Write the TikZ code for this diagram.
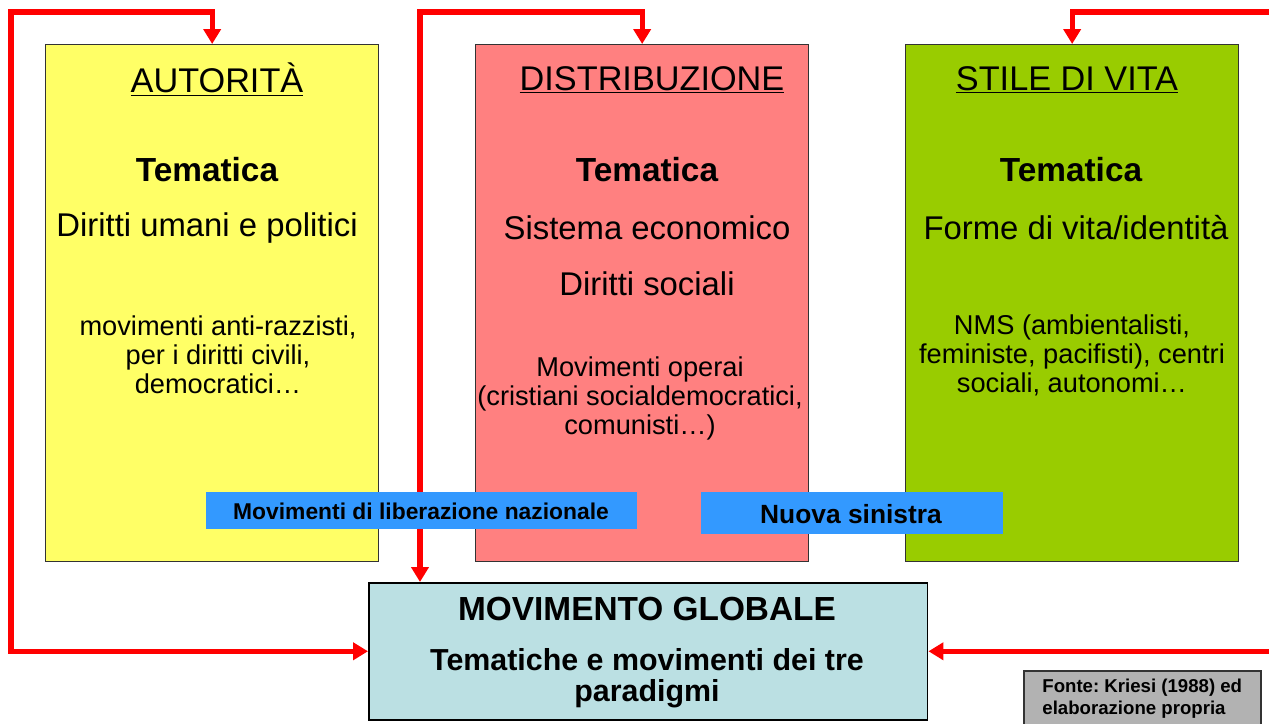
\documentclass[tikz,border=0pt]{standalone}
\usepackage{fontspec}
\setmainfont{Liberation Sans}
\usetikzlibrary{arrows.meta}
\frenchspacing

\definecolor{colYellow}{HTML}{FFFF66}
\definecolor{colRed}{HTML}{FF8080}
\definecolor{colGreen}{HTML}{99CC00}
\definecolor{colCyan}{HTML}{BBE0E3}
\definecolor{colBlue}{HTML}{3399FF}
\definecolor{colGray}{HTML}{B2B2B2}

\tikzset{
    column/.style={draw=black!80,line width=0.8pt,anchor=north west,inner sep=0pt,
        minimum width=6.66cm,minimum height=10.34cm},
    title/.style={font=\fontsize{19.5}{22}\selectfont},
    tema/.style={font=\bfseries\fontsize{19}{22}\selectfont},
    big/.style={font=\fontsize{18.7}{22}\selectfont},
    small/.style={font=\fontsize{15.5}{16.5}\selectfont,align=center},
    tag/.style={fill=colBlue,anchor=north west,inner sep=0pt,font=\bfseries},
    link/.style={draw=red,line width=2.85pt,{Triangle[length=8.5pt,width=9.7pt]}-{Triangle[length=8.5pt,width=9.7pt]}},
}

\begin{document}
\begin{tikzpicture}[x=0.02cm,y=-0.02cm]
    \useasboundingbox (0,0) rectangle (1269,724);
    % the three paradigms
    \node[column,fill=colYellow] (aut) at (45,44) {};
    \node[column,fill=colRed] (dis) at (475,44) {};
    \node[column,fill=colGreen] (sti) at (905,44) {};

    \node[title] (autTitle) at (217,80) {\underline{AUTORIT\`A}};
    \node[tema] (autTema) at (207,170) {Tematica};
    \node[big] (autDir) at (207,228) {Diritti umani e politici};
    \node[small] (autMov) at (218,355) {movimenti anti-razzisti,\\per i diritti civili,\\democratici\dots};

    \node[title] (disTitle) at (652,80) {\underline{DISTRIBUZIONE}};
    \node[tema] (disTema) at (647,170) {Tematica};
    \node[big] (disSis) at (647,228) {Sistema economico};
    \node[big] (disDir) at (647,284) {Diritti sociali};
    \node[small] (disMov) at (640,398) {Movimenti operai\\(cristiani socialdemocratici,\\comunisti\dots)};

    \node[title] (stiTitle) at (1067,80) {\underline{STILE DI VITA}};
    \node[tema] (stiTema) at (1071,170) {Tematica};
    \node[big] (stiForme) at (1076,228) {Forme di vita/identit\`a};
    \node[small] (stiMov) at (1072,355) {NMS (ambientalisti,\\feministe, pacifisti), centri\\sociali, autonomi\dots};

    % global movement
    \node[draw=black,line width=0.9pt,fill=colCyan,anchor=north west,inner sep=0pt,
        minimum width=11.18cm,minimum height=2.74cm] (glob) at (368,582) {};
    \node[tema] (globTitle) at (647,609) {MOVIMENTO GLOBALE};
    \node[font=\bfseries\fontsize{17.3}{17.5}\selectfont,align=center] (globTxt) at (647,678)
        {Tematiche e movimenti dei tre\\paradigmi};

    % feedback arrows
    \coordinate (c1) at (11,12);
    \coordinate (c2) at (420,12);
    \coordinate (c3) at (1290,12);
    \draw[link] (aut.north) |- (c1) |- (glob.west);
    \draw[link] (dis.north) |- (c2) -- (c2 |- glob.north);
    \draw[link] (sti.north) |- (c3) |- (glob.east);

    % crossing movements
    \node[tag,minimum width=8.62cm,minimum height=0.74cm] (lib) at (206,492) {};
    \node[font=\bfseries\fontsize{13}{15}\selectfont] (libTxt) at (421,511) {Movimenti di liberazione nazionale};
    \node[tag,minimum width=6.04cm,minimum height=0.84cm] (nuo) at (701,492) {};
    \node[font=\bfseries\fontsize{15}{17}\selectfont] (nuoTxt) at (851,514) {Nuova sinistra};

    % source
    \node[draw=black!80,line width=0.9pt,fill=colGray,anchor=north west,align=left,
        minimum width=4.74cm,inner xsep=0.34cm,inner ysep=0.16cm,
        font=\bfseries\fontsize{10.6}{12.5}\selectfont] (fonte) at (1023,670)
        {Fonte: Kriesi (1988) ed\\elaborazione propria};
\end{tikzpicture}
\end{document}
